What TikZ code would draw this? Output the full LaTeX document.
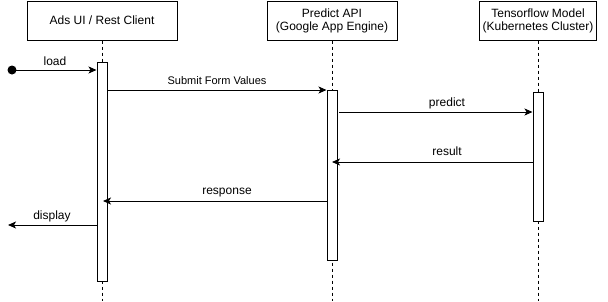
\documentclass[tikz,border=0pt]{standalone}
\usepackage{fontspec}
\setmainfont{Liberation Sans}
\usetikzlibrary{arrows.meta}
\begin{document}
\begin{tikzpicture}[x=1pt,y=-1pt,line width=1pt,
  actor/.style={draw,minimum height=39pt,align=center,font=\fontsize{12}{13}\selectfont},
  act/.style={draw,fill=white,minimum width=10pt,inner sep=0pt},
  life/.style={dash pattern=on 3pt off 3pt},
  msg/.style={-{Stealth[length=8pt,width=7pt,inset=2pt]}},
  lbl/.style={font=\fontsize{12}{13}\selectfont,inner sep=0pt}]
\useasboundingbox (0,0) rectangle (608,301);

% participants
\node[actor,minimum width=150pt] (ui) at (102,20.5) {Ads UI / Rest Client};
\node[actor,minimum width=130pt] (api) at (332,20.5) {Predict API\\(Google App Engine)};
\node[actor,minimum width=112pt] (tf) at (538,20.5) {Tensorflow Model\\(Kubernetes Cluster)};

% lifelines
\coordinate (uiend) at (102,301);
\coordinate (apiend) at (332,301);
\coordinate (tfend) at (538,301);
\draw[life] (ui.south) -- (uiend);
\draw[life] (api.south) -- (apiend);
\draw[life] (tf.south) -- (tfend);

% activation bars
\node[act,minimum height=219pt] (uiact) at (102,171.5) {};
\node[act,minimum height=170pt] (apiact) at (332,175) {};
\node[act,minimum height=129pt] (tfact) at (538,156.5) {};

% messages
\coordinate (start) at (12,70);
\fill (start) circle (4.5pt);
\coordinate (uiload) at (uiact.west |- 0,70);
\draw[msg] (start) -- (uiload);
\node[lbl] (loadl) at (55,61) {load};

\coordinate (submitfrom) at (uiact.east |- 0,90);
\coordinate (submitto) at (apiact.west |- 0,90);
\draw[msg] (submitfrom) -- (submitto);
\node[lbl,font=\fontsize{11}{12}\selectfont] (submitl) at (217,81) {Submit Form Values};

\coordinate (predfrom) at (339,112);
\coordinate (predto) at (tfact.west |- 0,112);
\draw[msg] (predfrom) -- (predto);
\node[lbl] (predl) at (447,103) {predict};

\coordinate (resfrom) at (tfact.west |- 0,162);
\coordinate (resto) at (332,162);
\draw[msg] (resfrom) -- (resto);
\node[lbl] (resl) at (447,151) {result};

\coordinate (respfrom) at (apiact.west |- 0,201);
\coordinate (respto) at (103,201);
\draw[msg] (respfrom) -- (respto);
\node[lbl] (respl) at (227,193) {response};

\coordinate (dispfrom) at (uiact.west |- 0,225);
\coordinate (dispto) at (8,225);
\draw[msg] (dispfrom) -- (dispto);
\node[lbl] (displ) at (52,216) {display};
\end{tikzpicture}
\end{document}
